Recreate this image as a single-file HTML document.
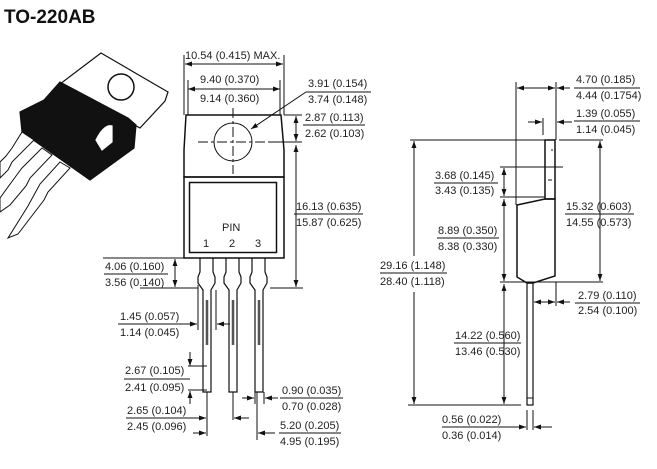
<!DOCTYPE html>
<html><head><meta charset="utf-8"><style>
html,body{margin:0;padding:0;background:#fff}
svg{display:block}
text{font-family:"Liberation Sans",Arial,sans-serif;font-size:11px;fill:#222}
</style></head><body>
<svg width="657" height="469" viewBox="0 0 657 469" xmlns="http://www.w3.org/2000/svg">
<defs>
<marker id="a" viewBox="0 0 10 10" refX="10" refY="5" markerWidth="7" markerHeight="7" orient="auto-start-reverse"><path d="M0,1.5 L10,5 L0,8.5 Z" fill="#111"/></marker>
</defs>
<text x="4" y="23" style="font-size:19px;font-weight:bold;fill:#111">TO-220AB</text>

<!-- photo -->
<g stroke="#111" stroke-width="1.2">
<polygon points="101,53 168,92 165,101 140,128 60,84" fill="#fff"/>
<circle cx="121" cy="87" r="13" fill="#fff" stroke-width="1.5"/>
<polygon points="60,82 128,118 136,125 134,148 90,180 22,132 20,112 44,100" fill="#111"/>
<g fill="#fff" stroke-width="1">
<polygon points="22,132 34,140 12,162 8,170 0,178 0,162 6,156 12,148"/>
<polygon points="42,148 52,155 30,178 26,186 10,205 0,212 0,198 16,176 22,168"/>
<polygon points="60,162 70,168 48,192 44,200 18,234 8,238 28,206 40,184"/>
</g>
<path d="M96,140 Q104,124 112,126 L112,142 L102,150 Z" fill="#fff" stroke="#fff"/>
</g>

<g stroke="#111" stroke-width="1" fill="none">
<!-- front view -->
<path d="M186,115 L281,115 L284,150 L284,177 L184,177 L184,150 Z" stroke-width="1.5"/>
<rect x="184" y="177" width="100" height="81" stroke-width="1.5"/>
<rect x="189.5" y="182.5" width="87" height="70" stroke-width="1.5"/>
<circle cx="233" cy="142" r="19"/>
<line x1="198" y1="142" x2="268" y2="142" stroke-dasharray="10,3,3,3"/>
<line x1="233" y1="108" x2="233" y2="174" stroke-dasharray="10,3,3,3"/>
<!-- leads -->
<g stroke-width="1.2">
<path d="M200,258 L200,272 L198,277 L198,283 L203,290 L203,392 L211,392 L211,290 L215,283 L215,277 L213,272 L213,258"/>
<path d="M226,258 L226,272 L224,277 L224,283 L229,290 L229,392 L237,392 L237,290 L241,283 L241,277 L239,272 L239,258"/>
<path d="M252,258 L252,272 L250,277 L250,283 L255,290 L255,392 L263,392 L263,290 L267,283 L267,277 L265,272 L265,258"/>
</g>
<g stroke="#555" stroke-width="2.5"><line x1="207" y1="300" x2="207" y2="345"/><line x1="233" y1="300" x2="233" y2="345"/><line x1="259" y1="300" x2="259" y2="345"/></g>

<!-- front dims -->
<line x1="184" y1="55" x2="184" y2="115"/><line x1="284" y1="55" x2="284" y2="115"/>
<line x1="185" y1="64" x2="283" y2="64" marker-start="url(#a)" marker-end="url(#a)"/>
<line x1="188" y1="89" x2="280" y2="89" marker-start="url(#a)" marker-end="url(#a)"/>
<line x1="188" y1="80" x2="188" y2="115"/><line x1="280" y1="80" x2="280" y2="115"/>
<line x1="306" y1="92" x2="371" y2="92"/>
<line x1="306" y1="92" x2="251" y2="129" marker-end="url(#a)"/>
<line x1="284" y1="115" x2="302" y2="115"/><line x1="268" y1="142" x2="302" y2="142"/>
<line x1="296" y1="116" x2="296" y2="141" marker-start="url(#a)" marker-end="url(#a)"/>
<line x1="303" y1="125" x2="365" y2="125"/>
<line x1="296" y1="145" x2="296" y2="287" marker-start="url(#a)" marker-end="url(#a)"/>
<line x1="294" y1="214" x2="363" y2="214"/>
<line x1="270" y1="288" x2="303" y2="288"/>
<line x1="103" y1="258" x2="200" y2="258"/><line x1="140" y1="288" x2="198" y2="288"/>
<line x1="175" y1="259" x2="175" y2="287" marker-start="url(#a)" marker-end="url(#a)"/>
<line x1="104" y1="274" x2="168" y2="274"/>
<line x1="198" y1="285" x2="198" y2="330"/><line x1="216" y1="290" x2="216" y2="330"/>
<line x1="118" y1="324" x2="197" y2="324"/><line x1="183" y1="324" x2="197" y2="324" marker-end="url(#a)"/>
<line x1="230" y1="324" x2="217" y2="324" marker-end="url(#a)"/>
<line x1="124" y1="379" x2="190" y2="379"/>
<line x1="190" y1="352" x2="190" y2="366" marker-end="url(#a)"/><line x1="188" y1="366" x2="207" y2="366"/>
<line x1="190" y1="404" x2="190" y2="391" marker-end="url(#a)"/><line x1="188" y1="390" x2="207" y2="390"/>
<line x1="207" y1="392" x2="207" y2="436"/><line x1="233" y1="392" x2="233" y2="420"/>
<line x1="126" y1="418" x2="206" y2="418"/><line x1="193" y1="418" x2="206" y2="418" marker-end="url(#a)"/>
<line x1="249" y1="418" x2="234" y2="418" marker-end="url(#a)"/>
<line x1="193" y1="433" x2="206" y2="433" marker-end="url(#a)"/>
<line x1="255" y1="392" x2="255" y2="404"/><line x1="264" y1="392" x2="264" y2="404"/>
<line x1="242" y1="398" x2="254" y2="398" marker-end="url(#a)"/>
<line x1="278" y1="398" x2="265" y2="398" marker-end="url(#a)"/>
<line x1="280" y1="398" x2="343" y2="398"/>
<line x1="257" y1="392" x2="257" y2="440"/>
<line x1="275" y1="433" x2="258" y2="433" marker-end="url(#a)"/>
<line x1="279" y1="433" x2="341" y2="433"/>

<!-- side view -->
<rect x="545" y="140" width="10" height="59" stroke-width="1.5"/>
<line x1="551" y1="150" x2="553" y2="150"/><line x1="548" y1="180" x2="552" y2="180"/>
<path d="M517,205 L545,199 L555,199 L555,276 L533,283 L527,283 L517,277 Z" stroke-width="1.5"/>
<rect x="527" y="283" width="6" height="122" stroke-width="1.2"/>
<line x1="527" y1="398" x2="533" y2="398"/>
<line x1="516" y1="82" x2="516" y2="205"/><line x1="556" y1="82" x2="556" y2="140"/>
<line x1="517" y1="88" x2="555" y2="88" marker-start="url(#a)" marker-end="url(#a)"/>
<line x1="570" y1="88" x2="557" y2="88" marker-end="url(#a)"/>
<line x1="574" y1="88" x2="640" y2="88"/>
<line x1="543" y1="118" x2="543" y2="135"/>
<line x1="528" y1="122" x2="542" y2="122" marker-end="url(#a)"/>
<line x1="572" y1="122" x2="557" y2="122" marker-end="url(#a)"/>
<line x1="574" y1="121" x2="640" y2="121"/>
<line x1="410" y1="140" x2="545" y2="140"/><line x1="559" y1="140" x2="603" y2="140"/>
<line x1="414" y1="141" x2="414" y2="256" marker-start="url(#a)"/>
<line x1="414" y1="292" x2="414" y2="404" marker-end="url(#a)"/>
<line x1="380" y1="273" x2="447" y2="273"/>
<line x1="408" y1="405" x2="521" y2="405"/>
<line x1="500" y1="167" x2="563" y2="167"/><line x1="500" y1="197" x2="545" y2="197"/>
<line x1="504" y1="168" x2="504" y2="196" marker-start="url(#a)" marker-end="url(#a)"/>
<line x1="434" y1="183" x2="498" y2="183"/>
<line x1="504" y1="199" x2="504" y2="281" marker-start="url(#a)" marker-end="url(#a)"/>
<line x1="437" y1="238" x2="499" y2="238"/>
<line x1="500" y1="282" x2="603" y2="282"/>
<line x1="600" y1="141" x2="600" y2="281" marker-start="url(#a)" marker-end="url(#a)"/>
<line x1="565" y1="214" x2="634" y2="214"/>
<line x1="504" y1="284" x2="504" y2="404" marker-start="url(#a)" marker-end="url(#a)"/>
<line x1="454" y1="343" x2="521" y2="343"/>
<line x1="556" y1="282" x2="556" y2="306"/>
<line x1="534" y1="302" x2="555" y2="302" marker-start="url(#a)" marker-end="url(#a)"/>
<line x1="570" y1="302" x2="557" y2="302" marker-end="url(#a)"/>
<line x1="575" y1="303" x2="640" y2="303"/>
<line x1="527" y1="410" x2="527" y2="430"/><line x1="533" y1="410" x2="533" y2="430"/>
<line x1="442" y1="427" x2="526" y2="427"/><line x1="510" y1="427" x2="526" y2="427" marker-end="url(#a)"/>
<line x1="552" y1="427" x2="534" y2="427" marker-end="url(#a)"/>
</g>

<g>
<text x="185" y="59">10.54 (0.415) MAX.</text>
<text x="200" y="83">9.40 (0.370)</text>
<text x="200" y="102">9.14 (0.360)</text>
<text x="308" y="87">3.91 (0.154)</text>
<text x="308" y="103">3.74 (0.148)</text>
<text x="305" y="121">2.87 (0.113)</text>
<text x="305" y="137">2.62 (0.103)</text>
<text x="296" y="210">16.13 (0.635)</text>
<text x="296" y="226">15.87 (0.625)</text>
<text x="222" y="231">PIN</text>
<text x="203" y="247">1</text><text x="229" y="247">2</text><text x="255" y="247">3</text>
<text x="105" y="270">4.06 (0.160)</text>
<text x="105" y="286">3.56 (0.140)</text>
<text x="120" y="320">1.45 (0.057)</text>
<text x="120" y="336">1.14 (0.045)</text>
<text x="125" y="374">2.67 (0.105)</text>
<text x="125" y="391">2.41 (0.095)</text>
<text x="127" y="414">2.65 (0.104)</text>
<text x="127" y="430">2.45 (0.096)</text>
<text x="282" y="394">0.90 (0.035)</text>
<text x="282" y="410">0.70 (0.028)</text>
<text x="280" y="429">5.20 (0.205)</text>
<text x="280" y="445">4.95 (0.195)</text>
<text x="576" y="83">4.70 (0.185)</text>
<text x="576" y="99">4.44 (0.1754)</text>
<text x="576" y="117">1.39 (0.055)</text>
<text x="576" y="133">1.14 (0.045)</text>
<text x="435" y="179">3.68 (0.145)</text>
<text x="435" y="194">3.43 (0.135)</text>
<text x="438" y="234">8.89 (0.350)</text>
<text x="438" y="250">8.38 (0.330)</text>
<text x="566" y="210">15.32 (0.603)</text>
<text x="566" y="226">14.55 (0.573)</text>
<text x="380" y="269">29.16 (1.148)</text>
<text x="380" y="285">28.40 (1.118)</text>
<text x="455" y="339">14.22 (0.560)</text>
<text x="455" y="355">13.46 (0.530)</text>
<text x="578" y="299">2.79 (0.110)</text>
<text x="578" y="314">2.54 (0.100)</text>
<text x="442" y="423">0.56 (0.022)</text>
<text x="442" y="439">0.36 (0.014)</text>
</g>
</svg>
</body></html>
